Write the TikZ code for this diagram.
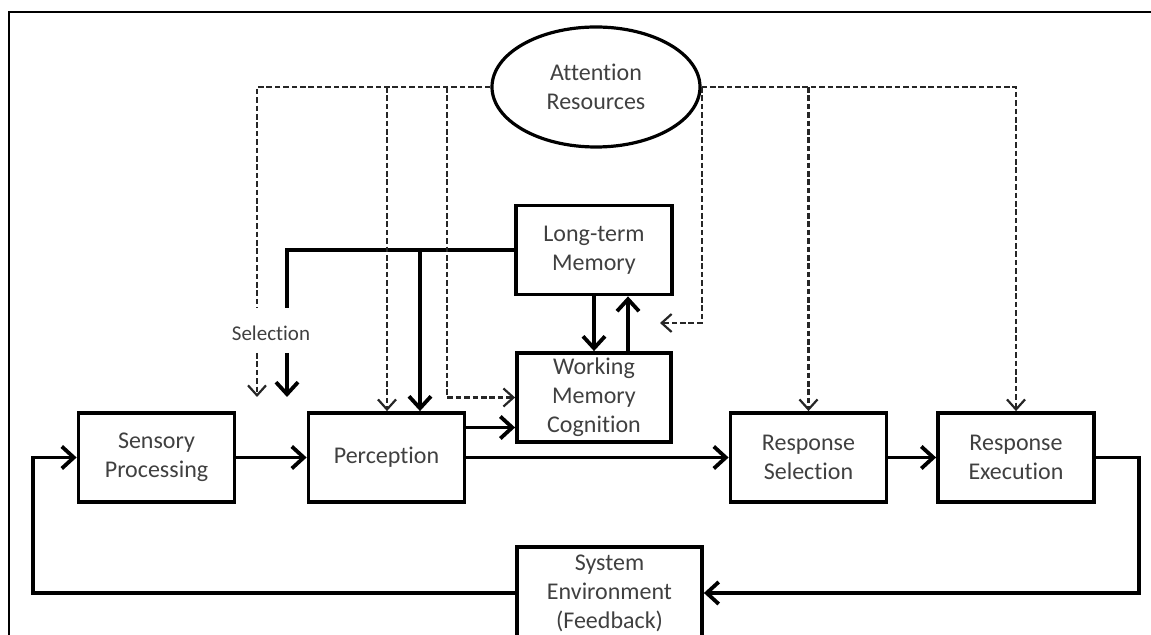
\documentclass[tikz,border=0pt]{standalone}
\usepackage{fontspec}
\setmainfont{Carlito}[Ligatures=NoCommon]
\usetikzlibrary{
  arrows.meta,
  shapes
}

\begin{document}
\begin{tikzpicture}[x=0.5pt, y=-0.5pt,
  every node/.style = {align=center, text=black!75,
    font=\fontsize{12}{14.5}\selectfont},
  box/.style = {shape=rectangle, draw=black, line width=1.9pt,
    minimum width=78pt, minimum height=44.5pt, inner sep=1pt},
  flow/.style = {line width=1.9pt, -{Straight Barb[length=6pt,width=11pt]}},
  attn/.style = {line width=1.1pt, draw=black!85, dash pattern=on 2.8pt off 1.4pt},
  attnarrow/.style = {attn, -{Straight Barb[length=5pt,width=9pt]}}]
  \useasboundingbox (0,0) rectangle (1151,635);
  \draw[line width=1pt] (9,660) -- (9,12) -- (1170,12);

  \node[ellipse, draw, line width=1.6pt, minimum width=104pt, minimum height=60pt]
    (att) at (596,87) {Attention\\Resources};
  \node[box] (sens) at (156.5,457.5) {Sensory\\Processing};
  \node[box] (perc) at (386.5,457.5) {Perception};
  \node[box] (ltm) at (594,250) {Long-term\\Memory};
  \node[box, minimum width=77pt] (wm) at (594,397.5) {Working\\Memory\\Cognition};
  \node[box] (rs) at (808.5,457.5) {Response\\Selection};
  \node[box] (re) at (1016,457.5) {Response\\Execution};
  \node[box, minimum width=92.5pt, minimum height=46pt]
    (sys) at (609.5,593) {System\\Environment\\(Feedback)};
  \node[font=\fontsize{10.5}{12}\selectfont] (sel) at (271,333) {Selection};

  \coordinate (loopl) at (33,593);
  \coordinate (loopr) at (1139,593);
  \coordinate (seltop) at (287,308);
  \coordinate (selfrom) at (287,353);
  \coordinate (selto) at (287,397);
  \coordinate (ltmdrop) at (420,250);
  \coordinate (dseltop) at (257,308);
  \coordinate (dselfrom) at (257,353);
  \coordinate (dselto) at (257,397);
  \coordinate (dperc) at (387,87);
  \coordinate (dwm) at (447,87);
  \coordinate (dltm) at (660,323);

  \draw[flow] (sens) -- (perc);
  \draw[flow] (perc) -- (rs);
  \draw[flow] ([yshift=15pt]perc.east) -- ([yshift=15pt]perc.east -| wm.west);
  \draw[flow] (rs) -- (re);
  \draw[flow] (re.east) -| (loopr) -- (sys.east);
  \draw[flow] (sys.west) -| (loopl) |- (sens.west);
  \draw[flow] (ltm) -- (wm);
  \draw[flow] ([xshift=17pt]wm.north) -- ([xshift=17pt]ltm.south);
  \draw[line width=1.9pt] (ltm.west) -| (seltop);
  \draw[flow] (ltmdrop) -- (ltmdrop |- perc.north);
  \draw[flow] (selfrom) -- (selto);

  \draw[attn] (att.west) -| (dseltop);
  \draw[attnarrow] (dselfrom) -- (dselto);
  \draw[attnarrow] (dperc) -- (dperc |- perc.north);
  \draw[attnarrow] (dwm) |- (wm.west);
  \draw[attnarrow] (att.east) -| (re.north);
  \draw[attnarrow] (rs.north |- att.east) -- (rs.north);
  \draw[attnarrow] (att.east) |- (dltm);
\end{tikzpicture}
\end{document}
